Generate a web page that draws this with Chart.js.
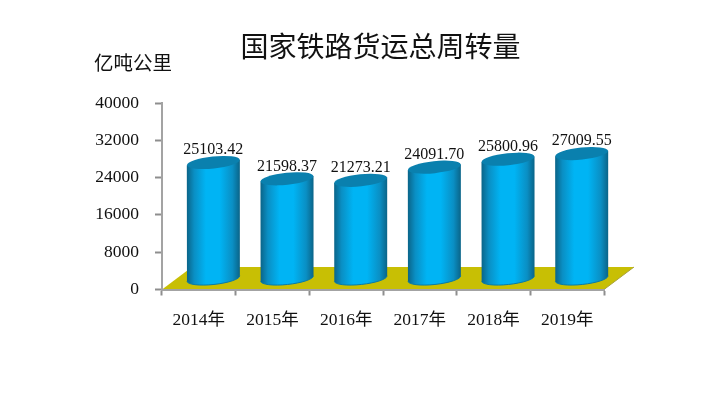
<!DOCTYPE html>
<html>
<head>
<meta charset="utf-8">
<style>
html, body { margin: 0; padding: 0; background: #fff; }
canvas { display: block; }
</style>
<script src="https://cdn.jsdelivr.net/npm/chart.js@4"></script>
</head>
<body>
<canvas id="freightChart" width="709" height="404"></canvas>
<script>
const years = ['2014年', '2015年', '2016年', '2017年', '2018年', '2019年'];
const freight = [25103.42, 21598.37, 21273.21, 24091.70, 25800.96, 27009.55];
const freightLabels = ['25103.42', '21598.37', '21273.21', '24091.70', '25800.96', '27009.55'];
const yTicks = [0, 8000, 16000, 24000, 32000, 40000];
const titleText = '国家铁路货运总周转量';
const unitText = '亿吨公里';

const serif = '"Liberation Serif", "Noto Sans CJK SC", serif';
const cjk = '"Noto Sans CJK SC", sans-serif';

// fake 3d: everything sits back from the axes by this much
const depthX = 14.5;
const depthY = -10;
const tilt = -6 * Math.PI / 180;

const floorPlugin = {
    id: 'floor',
    beforeDraw(chart) {
        const ctx = chart.ctx;
        const { left, right, bottom } = chart.chartArea;
        ctx.save();
        ctx.beginPath();
        ctx.moveTo(left, bottom);
        ctx.lineTo(right, bottom);
        ctx.lineTo(right + 30, bottom - 22.5);
        ctx.lineTo(left + 30, bottom - 22.5);
        ctx.closePath();
        ctx.fillStyle = '#c8bf04';
        ctx.fill();
        ctx.strokeStyle = '#a8a23c';
        ctx.lineWidth = 1;
        ctx.beginPath();
        ctx.moveTo(right, bottom);
        ctx.lineTo(right + 30, bottom - 22.5);
        ctx.stroke();
        ctx.restore();
    }
};

const cylinderPlugin = {
    id: 'cylinder',
    afterDatasetsDraw(chart) {
        const ctx = chart.ctx;
        const meta = chart.getDatasetMeta(0);
        meta.data.forEach((bar, i) => {
            const cx = bar.x + depthX;
            const top = bar.y + depthY;
            const base = bar.base + depthY - 0.5;
            const rx = bar.width / 2;
            const ry = 6;
            const dy = rx * Math.sin(tilt);

            const side = ctx.createLinearGradient(cx - rx, 0, cx + rx, 0);
            side.addColorStop(0, '#0a6488');
            side.addColorStop(0.14, '#0a8fc4');
            side.addColorStop(0.36, '#00b4f4');
            side.addColorStop(0.62, '#00b4f4');
            side.addColorStop(0.86, '#0a8fc4');
            side.addColorStop(1, '#0a6488');

            ctx.save();
            ctx.beginPath();
            ctx.moveTo(cx + rx, top + dy);
            ctx.lineTo(cx + rx, base + dy);
            ctx.ellipse(cx, base, rx, ry, tilt, 0, Math.PI);
            ctx.lineTo(cx - rx, top - dy);
            ctx.closePath();
            ctx.fillStyle = side;
            ctx.fill();

            ctx.beginPath();
            ctx.ellipse(cx, base, rx, ry, tilt, 0, Math.PI);
            ctx.strokeStyle = '#0a7aa6';
            ctx.lineWidth = 1;
            ctx.stroke();

            ctx.beginPath();
            ctx.ellipse(cx, top, rx, ry, tilt, 0, Math.PI * 2);
            ctx.fillStyle = '#0a80ae';
            ctx.fill();

            ctx.font = '16px ' + serif;
            ctx.fillStyle = '#111';
            ctx.textAlign = 'center';
            ctx.textBaseline = 'middle';
            ctx.fillText(freightLabels[i], cx, top - 12.5);
            ctx.restore();
        });
    }
};

const headingPlugin = {
    id: 'heading',
    afterDraw(chart) {
        const ctx = chart.ctx;
        ctx.save();
        ctx.fillStyle = '#111';
        ctx.textBaseline = 'middle';
        ctx.textAlign = 'center';
        ctx.font = '28px ' + cjk;
        ctx.fillText(titleText, 380.5, 46);
        ctx.textAlign = 'left';
        ctx.font = '19.5px ' + cjk;
        ctx.fillText(unitText, 94, 63);
        ctx.restore();
    }
};

const ctx = document.getElementById('freightChart').getContext('2d');

new Chart(ctx, {
    type: 'bar',
    data: {
        labels: years,
        datasets: [
            {
                data: freight,
                backgroundColor: 'rgba(0,0,0,0)',
                borderWidth: 0,
                barPercentage: 0.72,
                categoryPercentage: 1
            }
        ]
    },
    options: {
        responsive: false,
        animation: false,
        devicePixelRatio: 1,
        layout: {
            padding: { top: 103, right: 105, left: 0, bottom: 0 }
        },
        plugins: {
            legend: { display: false },
            title: { display: false },
            tooltip: { enabled: false }
        },
        scales: {
            x: {
                afterFit(scale) { scale.height = 114.5; },
                border: { color: '#a3a3a3', width: 2 },
                grid: {
                    drawOnChartArea: false,
                    offset: true,
                    color: '#8e8e8e',
                    tickLength: 6,
                    tickWidth: 2
                },
                ticks: {
                    color: '#111',
                    padding: 14,
                    maxRotation: 0,
                    font: { family: serif, size: 17.5 }
                }
            },
            y: {
                min: 0,
                max: 40000,
                afterFit(scale) { scale.width = 162; },
                afterBuildTicks(scale) { scale.ticks = yTicks.map(v => ({ value: v })); },
                border: { color: '#a3a3a3', width: 2 },
                grid: {
                    drawOnChartArea: false,
                    color: '#8e8e8e',
                    tickLength: 7,
                    tickWidth: 2
                },
                ticks: {
                    color: '#111',
                    padding: 16,
                    font: { family: serif, size: 17.5 },
                    callback: value => String(value)
                }
            }
        }
    },
    plugins: [floorPlugin, cylinderPlugin, headingPlugin]
});
</script>
</body>
</html>
